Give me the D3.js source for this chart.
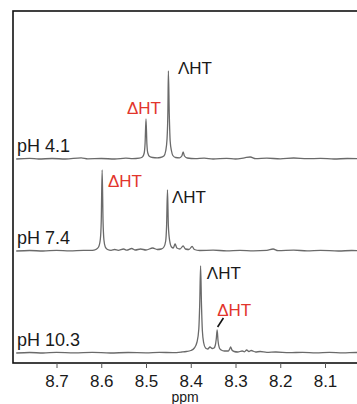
<!DOCTYPE html>
<html>
<head>
<meta charset="utf-8">
<script src="https://cdn.jsdelivr.net/npm/d3@7"></script>
<style>
  html, body { margin: 0; padding: 0; background: #fff; }
  svg { display: block; font-family: "Liberation Sans", Arial, Helvetica, sans-serif; }
</style>
</head>
<body>
<div id="chart"></div>
<script>
// ppm ticks
const tickValues = [8.7, 8.6, 8.5, 8.4, 8.3, 8.2, 8.1];
const panelNames = ['pH 4.1', 'pH 7.4', 'pH 10.3'];

// [ppm, intensity]
const spec41 = [
  [8.79, 0], [8.76, 0.6], [8.74, 0], [8.71, 0.5], [8.68, 0], [8.645, 1.2], [8.63, 0.2],
  [8.60, 0.5], [8.57, 0], [8.545, 0.8], [8.53, 0.3], [8.515, 0.8], [8.508, 2], [8.504, 6],
  [8.502, 16], [8.500, 40], [8.498, 15], [8.496, 6], [8.492, 2.5], [8.485, 1.5],
  [8.475, 1.2], [8.468, 1.5], [8.460, 3], [8.456, 8], [8.453, 20], [8.451, 50],
  [8.450, 88], [8.448, 45], [8.446, 18], [8.443, 8], [8.440, 3.5], [8.434, 1.5],
  [8.425, 1.2], [8.420, 3], [8.417, 7], [8.414, 3], [8.408, 1], [8.39, 0.3], [8.37, 0.8],
  [8.35, 0], [8.32, 0.6], [8.30, 0], [8.28, 1.2], [8.267, 2], [8.255, 0.4], [8.23, 0.8],
  [8.20, 0.2], [8.17, 1], [8.14, 0.3], [8.11, 0.6], [8.08, 0], [8.05, 0.5], [8.0, 0]
];
const spec74 = [
  [8.79, 0], [8.76, 0.5], [8.73, 0], [8.70, 0.6], [8.67, 0.2], [8.64, 0.6], [8.62, 0.6],
  [8.612, 1.5], [8.606, 4], [8.602, 12], [8.600, 30], [8.598, 81], [8.596, 30],
  [8.594, 11], [8.591, 4], [8.586, 1.5], [8.578, 0.6], [8.57, 1.5], [8.562, 0.6],
  [8.55, 2], [8.543, 0.8], [8.532, 2.5], [8.524, 1], [8.512, 2], [8.50, 1], [8.485, 3],
  [8.475, 1.5], [8.466, 2], [8.460, 4], [8.456, 10], [8.454, 25], [8.452, 61],
  [8.450, 25], [8.447, 10], [8.443, 4], [8.439, 3], [8.435, 7], [8.431, 3], [8.424, 2],
  [8.417, 5], [8.412, 2], [8.404, 1.5], [8.397, 4.5], [8.392, 1.5], [8.38, 0.5],
  [8.35, 0.8], [8.32, 0.2], [8.29, 0.7], [8.26, 0.2], [8.23, 0.6], [8.216, 2],
  [8.205, 0.4], [8.17, 0.8], [8.14, 0.2], [8.11, 0.6], [8.07, 0], [8.04, 0.5], [8.0, 0]
];
const spec103 = [
  [8.79, 0], [8.76, 0.5], [8.73, 0], [8.70, 0.6], [8.66, 0.1], [8.62, 0.6], [8.58, 0],
  [8.54, 0.5], [8.50, 0.2], [8.47, 0.6], [8.44, 0.4], [8.42, 1], [8.41, 1.5], [8.40, 2.5],
  [8.392, 5], [8.386, 11], [8.382, 24], [8.380, 48], [8.378, 87], [8.376, 48],
  [8.374, 22], [8.371, 10], [8.367, 5], [8.362, 4], [8.357, 6], [8.352, 4.5],
  [8.348, 5], [8.345, 8], [8.343, 14], [8.341, 23], [8.339, 12], [8.336, 5],
  [8.332, 3], [8.325, 2], [8.316, 2], [8.313, 4], [8.311, 6], [8.308, 3], [8.303, 1.5],
  [8.295, 1], [8.285, 2], [8.28, 1.2], [8.275, 3], [8.27, 1.5], [8.265, 2.5],
  [8.255, 1], [8.245, 1.5], [8.23, 0.6], [8.21, 1], [8.18, 0.3], [8.15, 0.7],
  [8.12, 0.2], [8.09, 0.6], [8.06, 0.1], [8.03, 0.5], [8.0, 0]
];
const spectra = [spec41, spec74, spec103];

// peak labels: [panel, text, ppm, intensity, colour]
const peakLabels = [
  [0, 'ΛHT', 8.4285, 85, 'black'],
  [0, 'ΔHT', 8.5425, 45, 'red'],
  [1, 'ΔHT', 8.585, 64, 'red'],
  [1, 'ΛHT', 8.442, 48, 'black'],
  [2, 'ΛHT', 8.364, 74, 'black'],
  [2, 'ΔHT', 8.341, 37, 'red']
];

const W = 357, H = 404;
const frame = { l: 13, t: 11, r: 372, b: 363 };
const baselines = [159, 251, 353];
const nameY = [152, 244, 346];

const svg = d3.select('#chart').append('svg').attr('width', W).attr('height', H);

const x = d3.scaleLinear().domain([8.7, 8.1]).range([56.5, 325]);

const line = d3.line().curve(d3.curveMonotoneX);

spectra.forEach((s, i) => {
  const y = d3.scaleLinear().domain([0, 100]).range([baselines[i], baselines[i] - 100]);
  const pts = s.slice().sort((a, b) => a[0] - b[0]).map(d => [x(d[0]), y(d[1])]);
  svg.append('path')
    .attr('d', line(pts))
    .attr('fill', 'none')
    .attr('stroke', '#6a6a6a')
    .attr('stroke-width', 1.3);

  svg.append('text')
    .attr('x', 17)
    .attr('y', nameY[i])
    .attr('font-size', 18)
    .attr('fill', '#1a1a1a')
    .text(panelNames[i]);

  peakLabels.filter(p => p[0] === i).forEach(p => {
    svg.append('text')
      .attr('x', x(p[2]))
      .attr('y', y(p[3]))
      .attr('font-size', 17)
      .attr('fill', p[4] === 'red' ? '#e2352c' : '#1a1a1a')
      .text(p[1]);
  });

  if (i === 2) {
    // leader for ΔHT at pH 10.3
    svg.append('line')
      .attr('x1', x(8.340)).attr('y1', y(26))
      .attr('x2', x(8.327)).attr('y2', y(35))
      .attr('stroke', '#111')
      .attr('stroke-width', 1.6);
  }
});

// frame
svg.append('rect')
  .attr('x', frame.l).attr('y', frame.t)
  .attr('width', frame.r - frame.l).attr('height', frame.b - frame.t)
  .attr('fill', 'none')
  .attr('stroke', '#111')
  .attr('stroke-width', 1.6);

const ax = svg.append('g')
  .attr('transform', `translate(0,${frame.b})`)
  .call(d3.axisBottom(x).tickValues(tickValues).tickSize(5).tickSizeOuter(0).tickFormat(d3.format('.1f')));
ax.select('.domain').remove();
ax.selectAll('line').attr('stroke', '#555').attr('stroke-width', 1);
ax.selectAll('text')
  .attr('y', 12)
  .attr('font-size', 17)
  .attr('font-family', '"Liberation Sans", Arial, sans-serif')
  .attr('fill', '#1a1a1a');

svg.append('text')
  .attr('x', 185)
  .attr('y', 402)
  .attr('text-anchor', 'middle')
  .attr('font-size', 14)
  .attr('fill', '#1a1a1a')
  .text('ppm');
</script>
</body>
</html>
